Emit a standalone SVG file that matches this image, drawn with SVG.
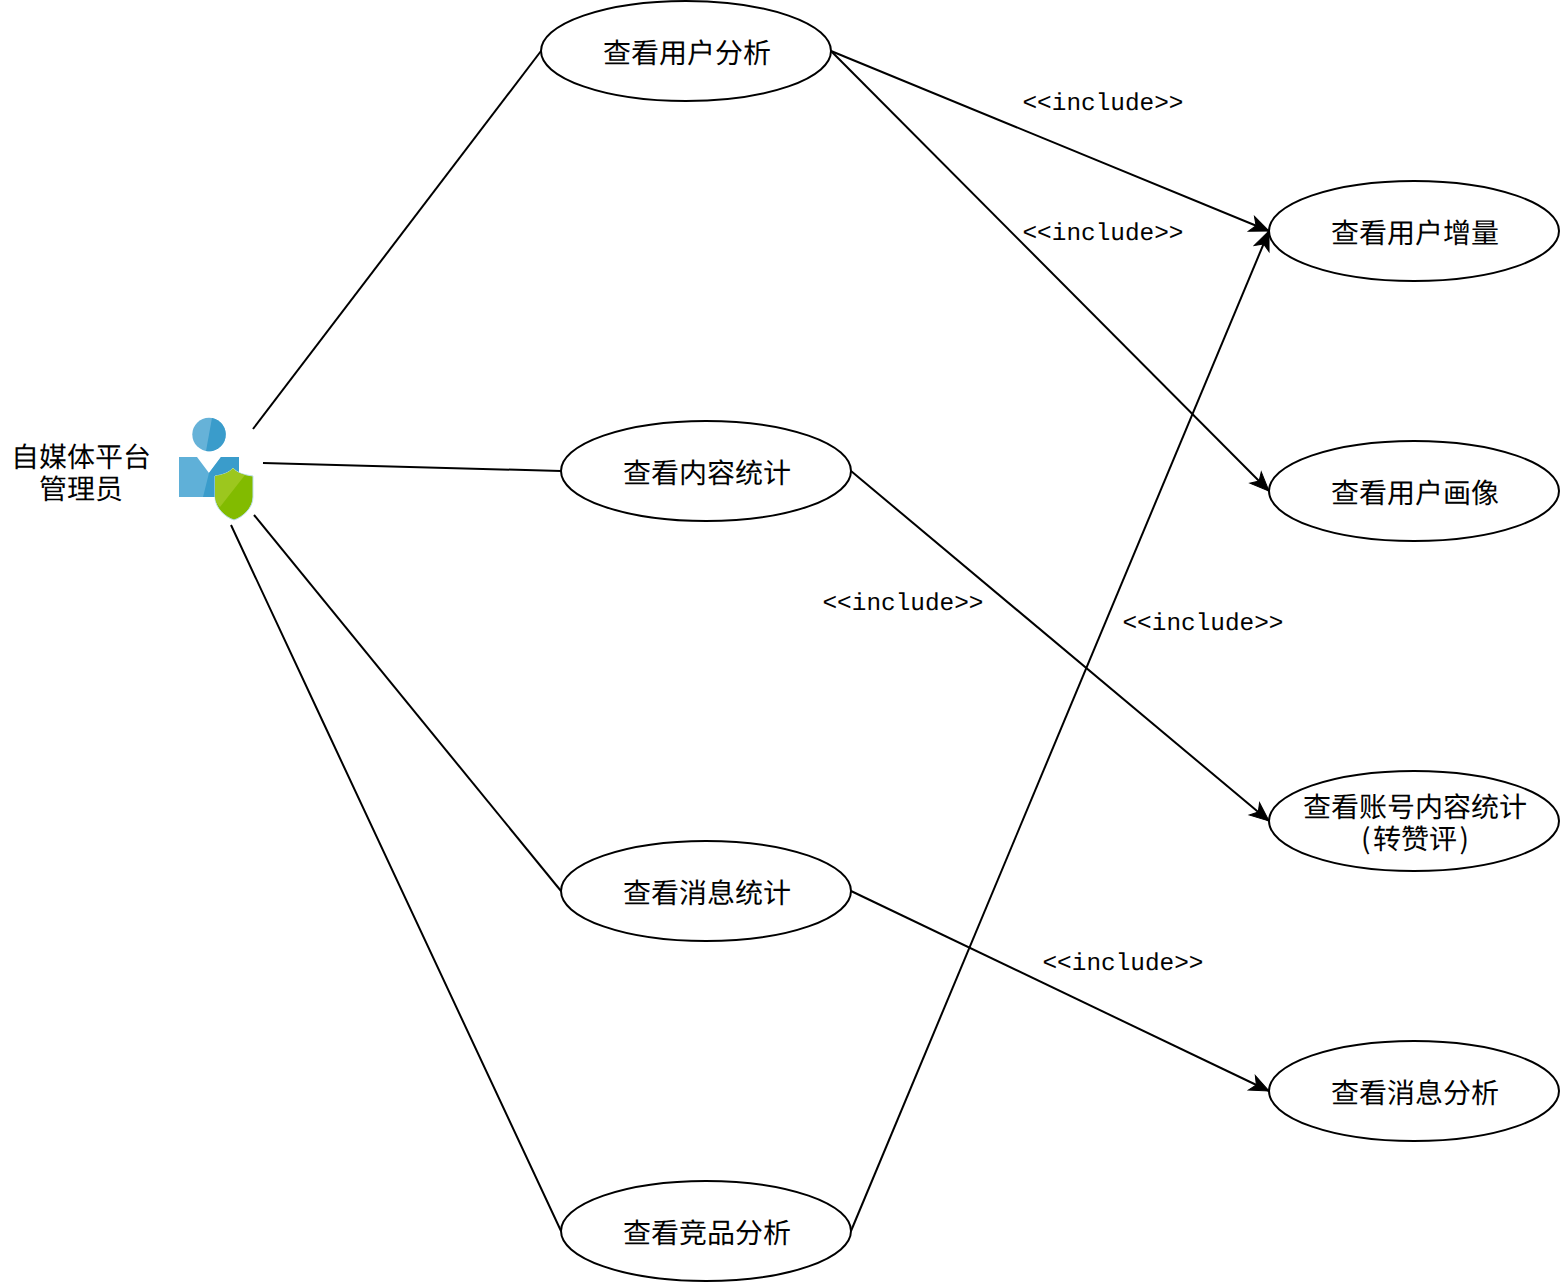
<svg xmlns="http://www.w3.org/2000/svg" width="1560" height="1282" viewBox="0 0 1560 1282">
<style>
.n{fill:#fff;stroke:#000;stroke-width:2}
.c{fill:none;stroke:#000;stroke-width:2}
.a{marker-end:url(#arr)}
text{font-family:"Noto Sans CJK SC","Liberation Sans",sans-serif;font-size:28px;font-weight:400;fill:#000;text-anchor:middle;text-rendering:geometricPrecision;opacity:.99}
.m{font-family:"Liberation Mono",monospace;font-size:24.4px;font-weight:400}
</style>
<defs>
<marker id="arr" markerUnits="userSpaceOnUse" markerWidth="22" markerHeight="20" refX="20" refY="9" orient="auto" overflow="visible"><path d="M1 1L20 9L1 17L6 9Z" fill="#000" stroke="#000" stroke-width="1"/></marker>
</defs>
<rect width="1560" height="1282" fill="#fff"/>
<g id="connectors">
<path class="c" d="M253 429L541 51"/>
<path class="c" d="M263 463L561 471"/>
<path class="c" d="M254 515L561 891"/>
<path class="c" d="M231 525C340 760 450 990 561 1231"/>
<path class="c a" d="M831 51L1269 231"/>
<path class="c a" d="M831 51L1269 491"/>
<path class="c a" d="M851 471L1269 821"/>
<path class="c a" d="M851 891L1269 1091"/>
<path class="c a" d="M851 1231L1269 231"/>
</g>
<g id="actor">
<circle cx="209" cy="434.500" r="16.700" fill="#66b2d8"/>
<path d="M212 418A16.700 16.700 0 0 1 206 451Z" fill="#3a9ccb"/>
<path d="M179 457H197L209 473L221 457H239V497H179Z" fill="#5fb0d8"/>
<path d="M209 473L221 457H239V497H203Z" fill="#3a9ccb"/>
<path d="M215 476C222 475 229 473 233 468C237 473 245 475 253 476V497C253 508 243 517 234 520C225 517 215 508 215 497Z" fill="#82bb00" stroke="#bde0ee" stroke-width="1"/>
<path d="M215 476C222 475 229 473 233 468C236 472 241 474 245 475L220 507C217 504 215 501 215 497Z" fill="#9cc71e"/>
<text x="81" y="467">自媒体平台</text>
<text x="81" y="499">管理员</text>
</g>
<g id="n1"><ellipse class="n" cx="686" cy="51" rx="145" ry="50"/><text x="687" y="62.500">查看用户分析</text></g>
<g id="n2"><ellipse class="n" cx="706" cy="471" rx="145" ry="50"/><text x="707" y="482.500">查看内容统计</text></g>
<g id="n3"><ellipse class="n" cx="706" cy="891" rx="145" ry="50"/><text x="707" y="902.500">查看消息统计</text></g>
<g id="n4"><ellipse class="n" cx="706" cy="1231" rx="145" ry="50"/><text x="707" y="1242.500">查看竞品分析</text></g>
<g id="n5"><ellipse class="n" cx="1414" cy="231" rx="145" ry="50"/><text x="1415" y="242.500">查看用户增量</text></g>
<g id="n6"><ellipse class="n" cx="1414" cy="491" rx="145" ry="50"/><text x="1415" y="502.500">查看用户画像</text></g>
<g id="n7"><ellipse class="n" cx="1414" cy="821" rx="145" ry="50"/><text x="1415" y="816.500">查看账号内容统计</text><text x="1415" y="848.500">(<tspan dx="2.500">转赞评</tspan><tspan dx="2.500">)</tspan></text></g>
<g id="n8"><ellipse class="n" cx="1414" cy="1091" rx="145" ry="50"/><text x="1415" y="1102.500">查看消息分析</text></g>
<g id="labels">
<text class="m" x="1103" y="110">&lt;&lt;include&gt;&gt;</text>
<text class="m" x="1103" y="240">&lt;&lt;include&gt;&gt;</text>
<text class="m" x="903" y="610">&lt;&lt;include&gt;&gt;</text>
<text class="m" x="1203" y="630">&lt;&lt;include&gt;&gt;</text>
<text class="m" x="1123" y="970">&lt;&lt;include&gt;&gt;</text>
</g>
</svg>
